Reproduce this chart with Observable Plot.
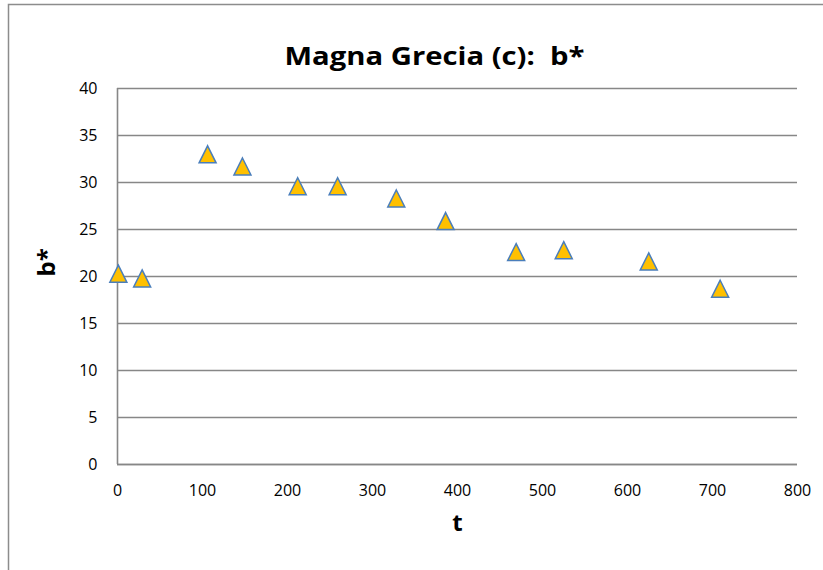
<!DOCTYPE html>
<html>
<head>
<meta charset="utf-8">
<script src="https://cdn.jsdelivr.net/npm/d3@7"></script>
<script src="https://cdn.jsdelivr.net/npm/@observablehq/plot@0.6"></script>
<style>
  html, body { margin: 0; padding: 0; background: #fff; }
  #chart { width: 823px; height: 570px; overflow: hidden; }
</style>
</head>
<body>
<div id="chart"></div>
<script>
const titleText = "Magna Grecia (c):  b*";
const xLabel = "t";
const yLabel = "b*";
const tValues = [1, 29, 106, 147, 212, 259, 328, 386, 469, 525, 625, 709];
const bValues = [20.3, 19.8, 33.0, 31.7, 29.6, 29.6, 28.3, 25.9, 22.6, 22.8, 21.6, 18.7];
const xTicks = [0, 100, 200, 300, 400, 500, 600, 700, 800];
const yTicks = [0, 5, 10, 15, 20, 25, 30, 35, 40];

const data = tValues.map((t, i) => ({t, b: bValues[i]}));

// triangle centered on its bounding box (like spreadsheet markers)
const boxTriangle = {
  draw(context, size) {
    const r = Math.sqrt(size / Math.PI);
    context.moveTo(0, -r);
    context.lineTo(r, r);
    context.lineTo(-r, r);
    context.closePath();
  }
};

const gridColor = "#878787";
const font = "'Open Sans', 'Liberation Sans', sans-serif";

const svg = Plot.plot({
  width: 823,
  height: 570,
  marginLeft: 117,
  marginRight: 26,
  marginTop: 88,
  marginBottom: 106,
  style: {fontFamily: font, fontSize: "16px", background: "#fff", color: "#000"},
  x: {domain: [0, 800]},
  y: {domain: [0, 40]},
  marks: [
    Plot.gridY(yTicks, {stroke: gridColor, strokeOpacity: 1, strokeWidth: 1.4}),
    Plot.ruleX([0], {stroke: gridColor, strokeWidth: 1.6}),
    Plot.ruleY([0], {stroke: gridColor, strokeWidth: 1.6}),
    Plot.axisY(yTicks, {tickSize: 0, tickPadding: 20, label: null, fontSize: 16, fill: "#000"}),
    Plot.axisX(xTicks, {tickSize: 0, tickPadding: 20, label: null, fontSize: 16, fill: "#000"}),
    Plot.dot(data, {x: "t", y: "b", symbol: boxTriangle, r: 8.5, fill: "#FFC000", stroke: "#4A7EBB", strokeWidth: 1.5}),
    Plot.text([titleText], {frameAnchor: "top", dx: -23, dy: -41.5, fontSize: 25, fontWeight: "bold", fill: "#000", className: "ttl"}),
    Plot.text([xLabel], {frameAnchor: "bottom", dy: 66, fontSize: 24, fontWeight: "bold", fill: "#000"}),
    Plot.text([yLabel], {frameAnchor: "left", dx: -70, rotate: -90, fontSize: 24, fontWeight: "bold", fill: "#000"})
  ]
});

d3.select(svg).select(".ttl text")
  .attr("textLength", 300)
  .attr("lengthAdjust", "spacingAndGlyphs")
  .style("white-space", "pre");

d3.select(svg).append("rect")
  .attr("x", 8.5).attr("y", 4.5)
  .attr("width", 1000).attr("height", 1000)
  .attr("fill", "none")
  .attr("stroke", "#8c8c8c")
  .attr("stroke-width", 1.5);

document.getElementById("chart").appendChild(svg);
</script>
</body>
</html>
